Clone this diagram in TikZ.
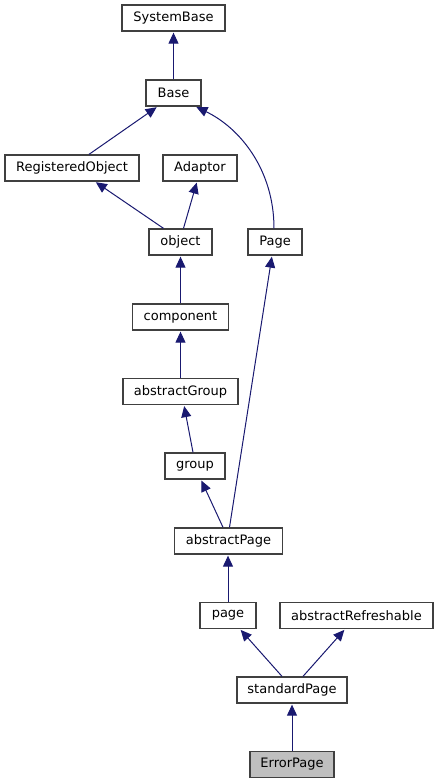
\documentclass[tikz,border=0pt]{standalone}
\usepackage{fontspec}
\setmainfont{DejaVu Sans}
\usetikzlibrary{arrows.meta}
\definecolor{edgeblue}{RGB}{25,25,112}
\definecolor{boxgray}{RGB}{64,64,64}
\definecolor{curgray}{RGB}{191,191,191}

\begin{document}
\begin{tikzpicture}[x=1pt,y=-1pt,
  cls/.style={draw=boxgray,line width=1.3pt,fill=white,minimum height=26pt,inner sep=0pt,font=\fontsize{13}{15}\selectfont},
  edge/.style={draw=edgeblue,line width=1pt,shorten >=1pt,-{Triangle[length=11pt,width=10pt]}}]
\useasboundingbox (0,0) rectangle (439,784);
\node[cls,minimum width=103pt] (SystemBase) at (173.5,18) {SystemBase};
\node[cls,minimum width=55pt] (Base) at (173.5,93) {Base};
\node[cls,minimum width=134pt] (RegisteredObject) at (72,168) {RegisteredObject};
\node[cls,minimum width=74pt] (Adaptor) at (200,168) {Adaptor};
\node[cls,minimum width=63pt] (object) at (180.5,242) {object};
\node[cls,minimum width=54pt] (Page) at (275,242) {Page};
\node[cls,minimum width=96pt] (component) at (180.5,317) {component};
\node[cls,minimum width=115pt] (abstractGroup) at (180.5,391.5) {abstractGroup};
\node[cls,minimum width=60pt] (group) at (195,466) {group};
\node[cls,minimum width=108pt] (abstractPage) at (228.5,541) {abstractPage};
\node[cls,minimum width=56pt] (page) at (228,615.5) {page};
\node[cls,minimum width=153pt] (abstractRefreshable) at (356.5,615.5) {abstractRefreshable};
\node[cls,minimum width=110pt] (standardPage) at (292,690) {standardPage};
\node[cls,minimum width=84pt,fill=curgray] (ErrorPage) at (292,764.5) {ErrorPage};

\draw[edge] (Base.north) -- (SystemBase.south);
\draw[edge] ([xshift=17pt]RegisteredObject.north) -- ([xshift=-16pt]Base.south);
\draw[edge] ([xshift=-1pt]Page.north) .. controls +(0,-59) and +(44,21) .. ([xshift=22pt]Base.south);
\draw[edge] ([xshift=-17pt]object.north) -- ([xshift=23pt]RegisteredObject.south);
\draw[edge] ([xshift=3pt]object.north) -- ([xshift=-3pt]Adaptor.south);
\draw[edge] (component.north) -- (object.south);
\draw[edge] ([xshift=1pt]abstractPage.north) -- ([xshift=-3pt]Page.south);
\draw[edge] (abstractGroup.north) -- (component.south);
\draw[edge] ([xshift=-2pt]group.north) -- ([xshift=3.5pt]abstractGroup.south);
\draw[edge] ([xshift=-5.5pt]abstractPage.north) -- ([xshift=6pt]group.south);
\draw[edge] (page.north) -- (page.north |- abstractPage.south);
\draw[edge] ([xshift=-10pt]standardPage.north) -- ([xshift=12pt]page.south);
\draw[edge] ([xshift=11pt]standardPage.north) -- ([xshift=-11.5pt]abstractRefreshable.south);
\draw[edge] (ErrorPage.north) -- (standardPage.south);

\end{tikzpicture}
\end{document}
